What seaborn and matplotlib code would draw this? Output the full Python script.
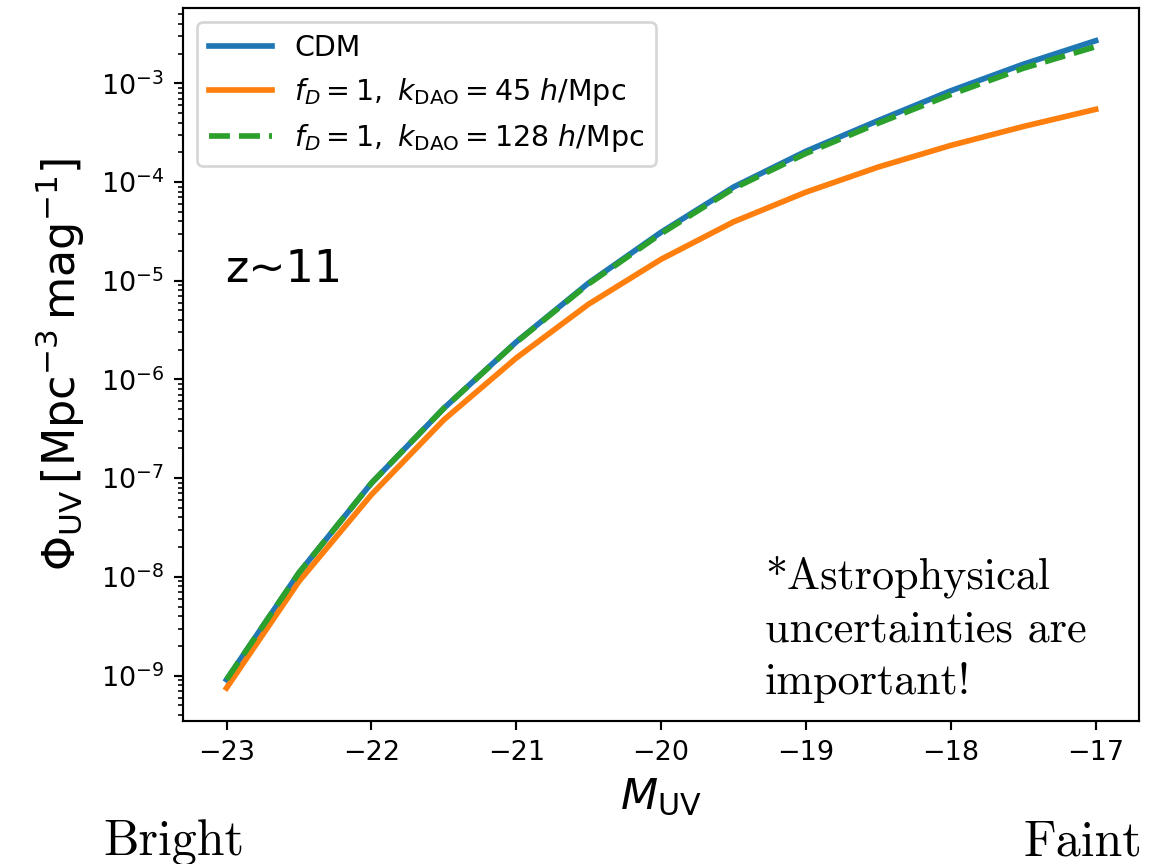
import matplotlib
matplotlib.use("Agg")
import numpy as np
import pandas as pd
import seaborn as sns
import matplotlib.pyplot as plt

# UV luminosity function at z~11
m_uv = [-23.0, -22.5, -22.0, -21.5, -21.0, -20.5, -20.0, -19.5, -19.0, -18.5, -18.0, -17.5, -17.0]
phi_cdm = [9.1e-10, 1.1e-8, 8.9e-8, 5.1e-7, 2.4e-6, 9.5e-6, 3.1e-5, 8.9e-5, 2.05e-4, 4.2e-4, 8.4e-4, 1.56e-3, 2.7e-3]
phi_k45 = [7.5e-10, 9.0e-9, 6.8e-8, 3.9e-7, 1.65e-6, 5.8e-6, 1.65e-5, 3.95e-5, 7.9e-5, 1.42e-4, 2.35e-4, 3.65e-4, 5.45e-4]
phi_k128 = [9.1e-10, 1.1e-8, 8.9e-8, 5.1e-7, 2.38e-6, 9.3e-6, 3.0e-5, 8.6e-5, 1.95e-4, 3.95e-4, 7.7e-4, 1.42e-3, 2.35e-3]

labels = ['CDM',
          r'$f_D=1,\ k_{\rm DAO}=45\ h/{\rm Mpc}$',
          r'$f_D=1,\ k_{\rm DAO}=128\ h/{\rm Mpc}$']

df = pd.DataFrame({'M': m_uv * 3,
                   'phi': phi_cdm + phi_k45 + phi_k128,
                   'model': [labels[0]] * 13 + [labels[1]] * 13 + [labels[2]] * 13})

fig = plt.figure(figsize=(1152 / 194, 864 / 194), dpi=194)
ax = fig.add_axes([0.1589, 0.1659, 0.8299, 0.8249])

colors = ['#1f77b4', '#ff7f0e', '#2ca02c']
styles = ['-', '-', '--']
for lab, c, ls in zip(labels, colors, styles):
    sns.lineplot(data=df[df['model'] == lab], x='M', y='phi', color=c,
                 linestyle=ls, linewidth=2.1, label=lab, ax=ax)

ax.set_yscale('log')
ax.set_xlim(-23.3, -16.7)
ax.set_ylim(3.5e-10, 5.8e-3)
ax.set_xlabel(r'$M_{\rm UV}$', fontsize=16)
ax.set_ylabel(r'$\Phi_{\rm UV}\,[{\rm Mpc}^{-3}\,{\rm mag}^{-1}]$', fontsize=16.5, labelpad=5)
ax.legend(loc='upper left', fontsize=10.6, handlelength=2.2)

ax.text(0.044, 0.6156, 'z~11', transform=ax.transAxes, fontsize=16.5,
        va='baseline', ha='left')

fig.text(0.664, 0.3565, '*Astrophysical\nuncertainties are\nimportant!',
         family='cmr10', fontsize=16.4, va='top', ha='left', linespacing=1.38)
fig.text(0.0894, 0.0104, 'Bright', family='cmr10', fontsize=18.6,
         va='baseline', ha='left')
fig.text(0.992, 0.0104, 'Faint', family='cmr10', fontsize=18.6,
         va='baseline', ha='right')

fig.savefig('out.png', dpi=194)
